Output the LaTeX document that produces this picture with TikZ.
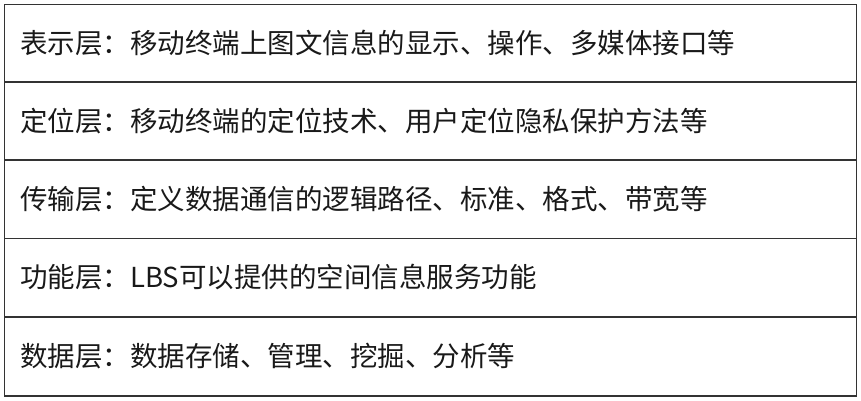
\documentclass[tikz,border=0pt]{standalone}
\usepackage{fontspec}
\setmainfont{Noto Sans CJK SC}
\begin{document}
\begin{tikzpicture}[x=1pt,y=-1pt,
  rowline/.style={draw=black!80,line width=1.6pt},
  rowtext/.style={anchor=west,inner sep=0pt,font=\fontsize{27.5}{32}\selectfont,text=black!90}]
\useasboundingbox (0,0) rectangle (861,401);
\draw[rowline] (4.5,4.5) rectangle (856.5,396);
\foreach \y in {82,160,238.5,317}{\draw[rowline] (4.5,\y) -- (856.5,\y);}
\node[rowtext] (r1) at (20,43) {表示层：移动终端上图文信息的显示、操作、多媒体接口等};
\node[rowtext] (r2) at (20,121) {定位层：移动终端的定位技术、用户定位隐私保护方法等};
\node[rowtext] (r3) at (20,199) {传输层：定义数据通信的逻辑路径、标准、格式、带宽等};
\node[rowtext] (r4) at (20,277.5) {功能层：LBS可以提供的空间信息服务功能};
\node[rowtext] (r5) at (20,356) {数据层：数据存储、管理、挖掘、分析等};
\end{tikzpicture}
\end{document}
